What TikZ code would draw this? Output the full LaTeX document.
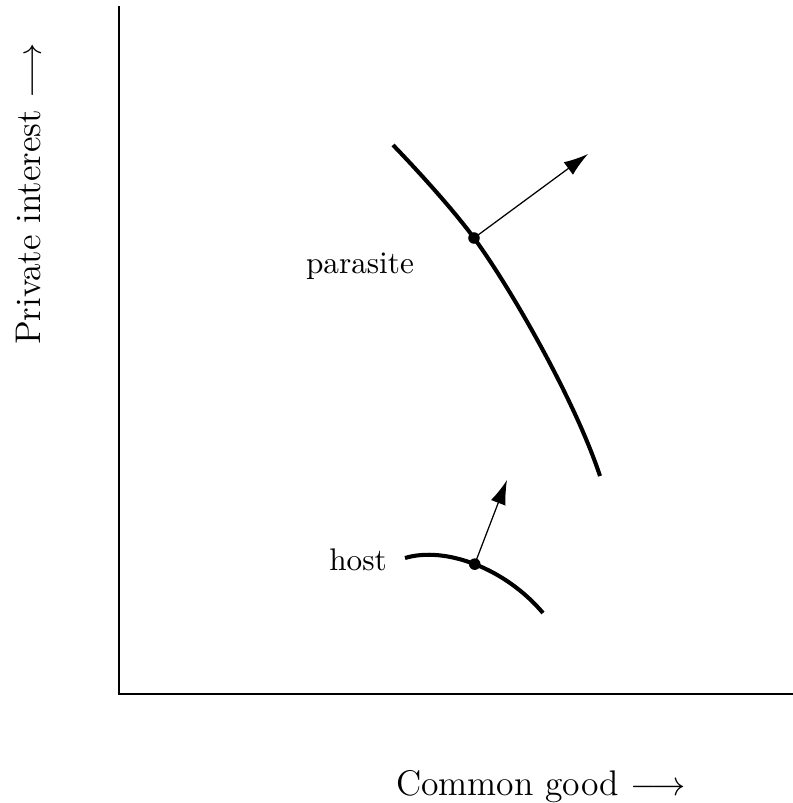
\documentclass[tikz,border=0pt]{standalone}
\usetikzlibrary{arrows.meta,positioning,calc}
\begin{document}
\begin{tikzpicture}[x=0.32pt,y=-0.32pt,
  axis/.style={line width=0.4pt},
  axlabel/.style={font=\fontsize{11.4}{14}\selectfont},
  curve/.style={line width=1.3pt},
  vec/.style={line width=0.4pt,-{Latex[length=7.8pt,width=5pt]}},
  pt/.style={circle,fill,inner sep=0pt,minimum size=3.7pt}]
\useasboundingbox (0,0) rectangle (793,803);
% axes
\coordinate (top) at (119,6);
\coordinate (o) at (119,694);
\coordinate (right) at (793,694);
\draw[axis] (top) -- (o) -- (right);
\node[rotate=90,anchor=base,axlabel] (ylab) at (41,194) {Private interest $\longrightarrow$};
\node[anchor=base,axlabel] (xlab) at (541,795) {Common good $\longrightarrow$};
% parasite
\coordinate (p) at (474,238);
\draw[curve] (393,145) .. controls (421,174) and (455,212) .. (p)
  .. controls (510,287) and (575,400) .. (600,476);
\node[pt] (pdot) at (p) {};
\coordinate (ptip) at (588,154);
\draw[vec] (pdot.center) -- (ptip);
\node[anchor=base] (plab) at (360,273) {parasite};
% host
\draw[curve] (405,558) .. controls (445,546) and (505,568) .. (543,613)
  node[pt,pos=0.5] (hdot) {};
\coordinate (htip) at (507,480);
\draw[vec] (hdot.center) -- (htip);
\node[anchor=base] (hlab) at (358,570) {host};
\end{tikzpicture}
\end{document}
